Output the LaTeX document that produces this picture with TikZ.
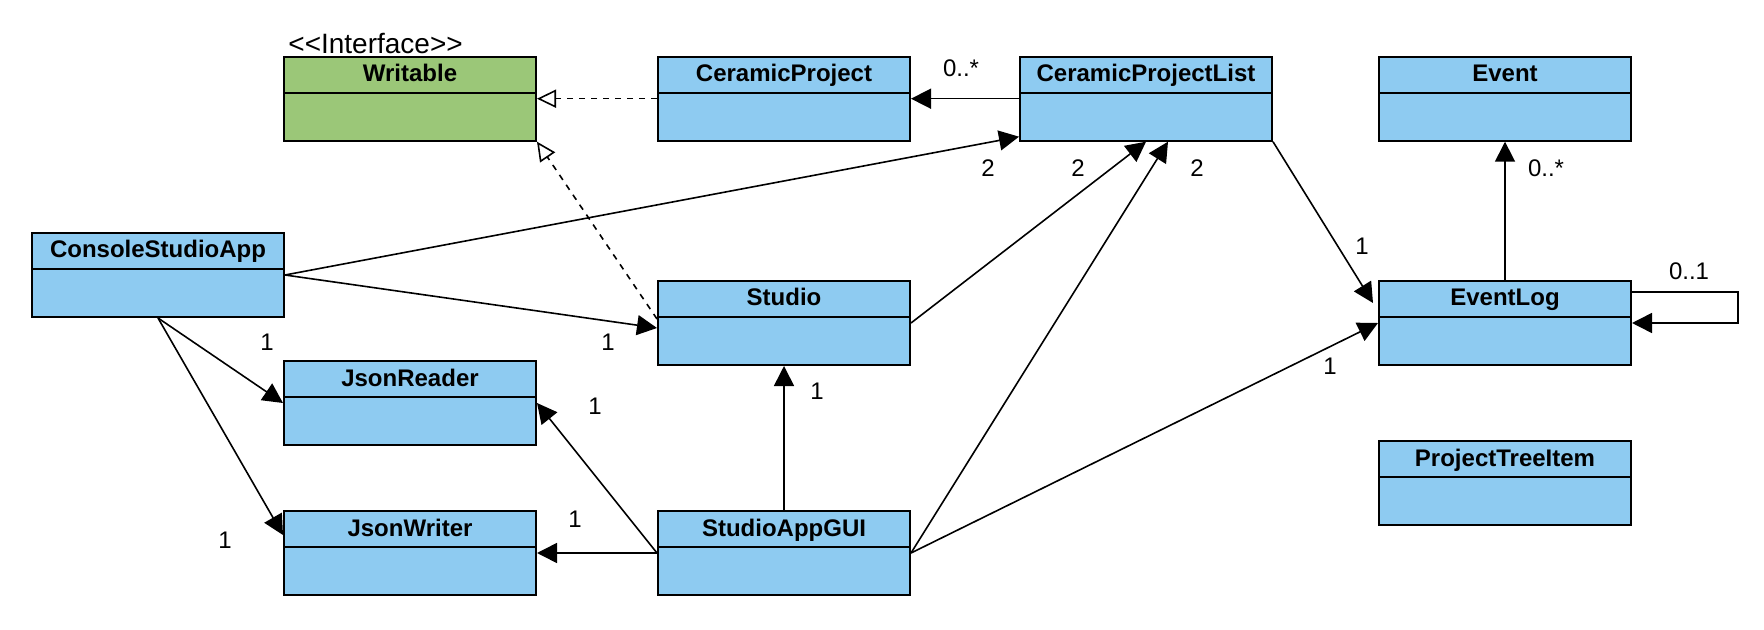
\documentclass[tikz,border=0pt]{standalone}
\usepackage{fontspec}
\setmainfont{Liberation Sans}
\usetikzlibrary{arrows.meta,shapes.multipart,calc}
\definecolor{classblue}{RGB}{142,203,241}
\definecolor{ifacegreen}{RGB}{155,199,120}

\begin{document}
\begin{tikzpicture}[x=0.5pt,y=-0.5pt,
    umlclass/.style={rectangle split,rectangle split parts=2,draw,line width=1pt,
      fill=classblue,minimum width=126pt,inner xsep=2pt,inner ysep=0pt,anchor=north,
      font=\bfseries\fontsize{12pt}{14pt}\selectfont},
    mult/.style={inner sep=0pt,font=\fontsize{12pt}{14pt}\selectfont},
    assoc/.style={line width=0.8pt,-{Triangle[length=10pt,width=10pt]}},
    realize/.style={line width=0.8pt,dash pattern=on 3pt off 3pt,
      -{Triangle[open,length=9.5pt,width=9pt,fill=white]}}]
  \useasboundingbox (0,0) rectangle (1764,630);

  \node[umlclass,fill=ifacegreen] (wr) at (410,55.7)
    {\rule[-5pt]{0pt}{17pt}Writable\nodepart{two}\rule{0pt}{23pt}};
  \node[mult,anchor=base west,font=\fontsize{14pt}{16pt}\selectfont] (stereo) at (288,54)
    {<\kern0pt<Interface>\kern0pt>};

  \foreach \nm/\cx/\cy/\txt in {cp/784/55.7/CeramicProject,cpl/1146/55.7/CeramicProjectList,
      ev/1505/55.7/Event,csa/158/232/ConsoleStudioApp,st/784/280/Studio,
      el/1505/280/EventLog,jr/410/360/JsonReader,pti/1505/440/ProjectTreeItem,
      jw/410/510/JsonWriter,gui/784/510/StudioAppGUI}
    \node[umlclass] (\nm) at (\cx,\cy) {\rule[-5pt]{0pt}{17pt}\txt\nodepart{two}\rule{0pt}{23pt}};

  \draw[realize] (cp.west) -- (wr.east);
  \draw[realize] ($(st.west)+(0,-4)$) -- (wr.south east);
  \draw[assoc] (cpl.west) -- (cp.east);
  \draw[assoc] (csa.east) -- ($(cpl.south west)+(0,-5)$);
  \draw[assoc] (csa.east) -- ($(st.west)+(0,5)$);
  \draw[assoc] (csa.south) -- (jr.west);
  \draw[assoc] (csa.south) -- ($(jw.north west)+(0,25)$);
  \draw[assoc] (st.east) -- (cpl.south);
  \draw[assoc] (gui.east) -- ($(cpl.south)+(22,0)$);
  \draw[assoc] (cpl.south east) -- ($(el.north west)+(-5,23)$);
  \draw[assoc] (gui.east) -- (el.west);
  \draw[assoc] (gui.north) -- (st.south);
  \draw[assoc] (gui.west) -- (jr.east);
  \draw[assoc] (gui.west) -- (jw.east);
  \draw[assoc] (el.north) -- (ev.south);
  \draw[assoc] ($(el.north east)+(0,12)$) -| ($(el.east)+(106,0)$) -- (el.east);

  \foreach \lx/\ly/\lt [count=\k] in {961/68/0..*,988/168/2,1078/168/2,1197/168/2,
      1362/246/1,1546/168/0..*,1689/271/0..1,1330/366/1,608/342/1,267/342/1,
      225/540/1,595/406/1,575/519/1,817/391/1}
    \node[mult] (mult\k) at (\lx,\ly) {\lt};
\end{tikzpicture}
\end{document}
